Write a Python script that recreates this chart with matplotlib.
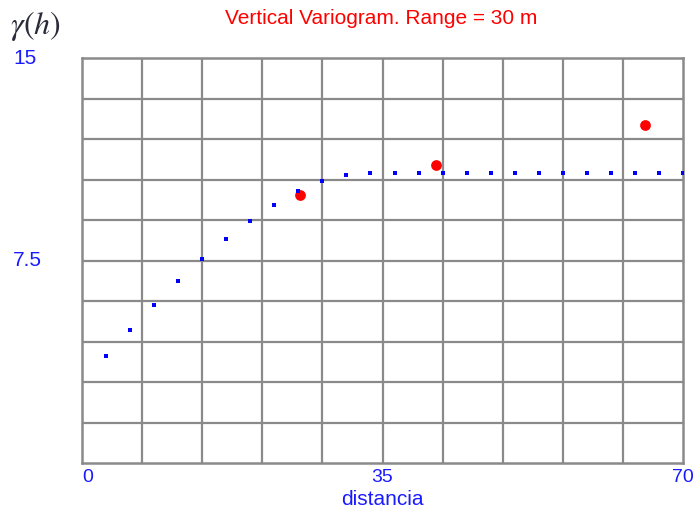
import matplotlib
matplotlib.use('Agg')
import matplotlib.pyplot as plt
import matplotlib.transforms as mtransforms

# Model variogram points (blue)
lag_model = [2.8, 5.6, 8.4, 11.2, 14.0, 16.8, 19.6, 22.4, 25.2, 28.0, 30.8, 33.6, 36.4,
             39.2, 42.0, 44.8, 47.6, 50.4, 53.2, 56.0, 58.8, 61.6, 64.4, 67.2, 70.0]
gamma_model = [3.97, 4.94, 5.84, 6.73, 7.54, 8.29, 8.95, 9.54, 10.06, 10.43, 10.66, 10.74, 10.74,
               10.74, 10.74, 10.74, 10.74, 10.74, 10.74, 10.74, 10.74, 10.74, 10.74, 10.74, 10.74]

# Experimental variogram points (red)
lag_exp = [25.4, 41.2, 65.6]
gamma_exp = [9.93, 11.04, 12.52]

x_ticks = [0, 35, 70]
x_ticklabels = ['0', '35', '70']
y_ticks = [7.5, 15]
y_ticklabels = ['7.5', '15']

plt.rcParams['font.family'] = ['Liberation Sans', 'DejaVu Sans']
plt.rcParams['mathtext.fontset'] = 'stix'

fig = plt.figure(figsize=(7, 5.16), dpi=100)
ax = fig.add_axes([82/700, 53/516, 601/700, 405/516])

ax.set_xlim(0, 70)
ax.set_ylim(0, 15)

# grid: 10 x 10
for i in range(1, 10):
    ax.axvline(i * 7, color='#8a8a8a', lw=1.6, zorder=1)
    ax.axhline(i * 1.5, color='#8a8a8a', lw=1.6, zorder=1)
for s in ax.spines.values():
    s.set_color('#8a8a8a')
    s.set_linewidth(1.8)

ax.scatter(lag_exp, gamma_exp, s=60, color='#ff0000', zorder=3, linewidths=0)
ax.scatter(lag_model, gamma_model, s=8, marker='s', color='#0000ff', zorder=4, linewidths=0)

ax.set_xticks(x_ticks)
ax.set_xticklabels(x_ticklabels, color='#1a1aff', fontsize=14)
ax.get_xticklabels()[0].set_ha('left')
ax.tick_params(axis='x', length=0, pad=4)
ax.set_yticks([])

trans = mtransforms.blended_transform_factory(fig.transFigure, ax.transData)
for v, lab in zip(y_ticks, y_ticklabels):
    ax.text(13/700, v, lab, transform=trans, ha='left', va='center',
            color='#1a1aff', fontsize=15)

ax.set_xlabel('distancia', color='#1a1aff', fontsize=15, labelpad=3)

fig.text(381/700, 1 - 19/516, 'Vertical Variogram. Range = 30 m', color='#ff0000',
         fontsize=15, ha='center', va='center')
fig.text(35/700, 1 - 26/516, r'$\gamma(h)$', color='#2a2a3a', fontsize=23,
         ha='center', va='center')

fig.savefig('out.png', dpi=100)
